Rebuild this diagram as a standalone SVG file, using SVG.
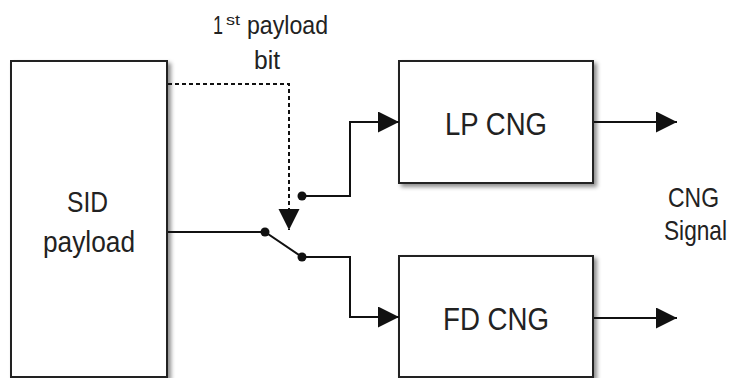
<svg xmlns="http://www.w3.org/2000/svg" width="731" height="378" viewBox="0 0 731 378">
<style>
.box{fill:#fff;stroke:#222;stroke-width:2;filter:url(#sh)}
.ln{fill:none;stroke:#111;stroke-width:2}
.dash{fill:none;stroke:#111;stroke-width:2;stroke-dasharray:4 3}
.t{font-family:"Liberation Sans",Arial,sans-serif;fill:#222}
.dot{fill:#111}
</style>
<defs>
<filter id="sh" x="-10%" y="-10%" width="130%" height="130%">
<feDropShadow dx="3" dy="3" stdDeviation="2" flood-color="#000" flood-opacity="0.45"/>
</filter>
<marker id="ar" markerUnits="userSpaceOnUse" markerWidth="22" markerHeight="22" refX="21" refY="10.5" orient="auto">
<path d="M0,0 L21,10.5 L0,21 z" fill="#111"/>
</marker>
</defs>
<g id="sid">
<rect class="box" x="11" y="61" width="156" height="316"/>
<text class="t" x="67" y="212" font-size="30" textLength="41" lengthAdjust="spacingAndGlyphs">SID</text>
<text class="t" x="43" y="252" font-size="30" textLength="92" lengthAdjust="spacingAndGlyphs">payload</text>
</g>
<g id="lp">
<rect class="box" x="399" y="61" width="194" height="122"/>
<text class="t" x="445" y="135" font-size="32" textLength="102" lengthAdjust="spacingAndGlyphs">LP CNG</text>
</g>
<g id="fd">
<rect class="box" x="399" y="256" width="194" height="121"/>
<text class="t" x="443" y="330" font-size="32" textLength="106" lengthAdjust="spacingAndGlyphs">FD CNG</text>
</g>
<g id="labels">
<text class="t" x="213" y="34" font-size="26" textLength="10" lengthAdjust="spacingAndGlyphs">1</text>
<text class="t" x="226" y="25" font-size="15" textLength="14" lengthAdjust="spacingAndGlyphs">st</text>
<text class="t" x="247" y="34" font-size="26" textLength="81" lengthAdjust="spacingAndGlyphs">payload</text>
<text class="t" x="254" y="69" font-size="26" textLength="26" lengthAdjust="spacingAndGlyphs">bit</text>
<text class="t" x="668" y="207" font-size="28" textLength="51" lengthAdjust="spacingAndGlyphs">CNG</text>
<text class="t" transform="translate(664,240) scale(0.81,1)" x="0" y="0" font-size="28">Signal</text>
</g>
<g id="connectors">
<path class="dash" d="M168,84 H289 V230" marker-end="url(#ar)"/>
<path class="ln" d="M168,232 H265 L302,257 H350 V317 H399" marker-end="url(#ar)"/>
<path class="ln" d="M302,196 H350 V122 H399" marker-end="url(#ar)"/>
<path class="ln" d="M594,122 H677" marker-end="url(#ar)"/>
<path class="ln" d="M594,318 H677" marker-end="url(#ar)"/>
<circle class="dot" cx="265" cy="232" r="4.5"/>
<circle class="dot" cx="302" cy="257" r="4.5"/>
<circle class="dot" cx="302" cy="196" r="4.5"/>
</g>
</svg>
